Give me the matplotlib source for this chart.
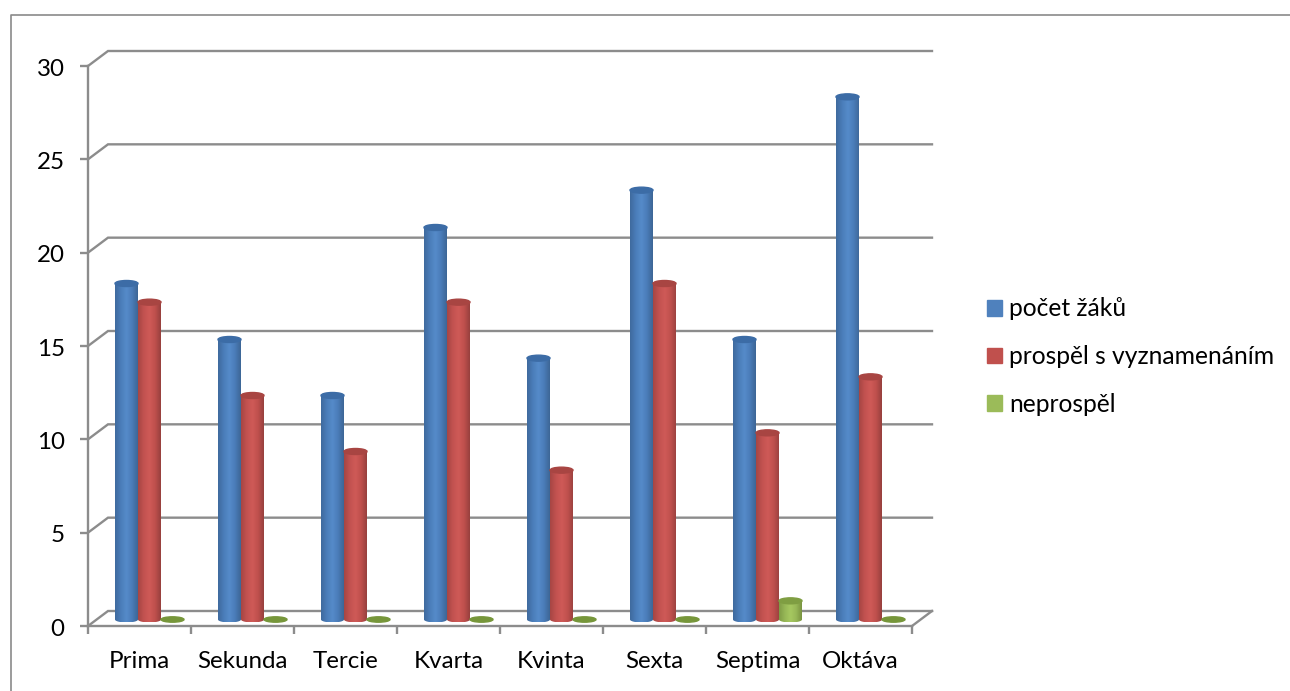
import numpy as np
import matplotlib
matplotlib.use("Agg")
import matplotlib.pyplot as plt
from matplotlib.patches import Ellipse, Patch, PathPatch
from matplotlib.path import Path
from matplotlib.lines import Line2D
from matplotlib.colors import LinearSegmentedColormap
from matplotlib.transforms import ScaledTranslation

categories = ["Prima", "Sekunda", "Tercie", "Kvarta", "Kvinta", "Sexta", "Septima", "Oktáva"]
pocet_zaku = [18, 15, 12, 21, 14, 23, 15, 28]
vyznamenani = [17, 12, 9, 17, 8, 18, 10, 13]
neprospel = [0, 0, 0, 0, 0, 0, 1, 0]
series_names = ["počet žáků", "prospěl s vyznamenáním", "neprospěl"]
y_ticks = [0, 5, 10, 15, 20, 25, 30]

W, H = 1290, 691
GREY = "#8c8c8c"
LW = 1.7
plt.rcParams["font.family"] = ["Lato", "DejaVu Sans"]

fig = plt.figure(figsize=(W / 100, H / 100), dpi=100, facecolor="white")
ax = fig.add_axes([88 / W, (H - 626) / H, 824 / W, 560 / H])
ax.set_xlim(0, len(categories))
ax.set_ylim(0, 30)
px_x = 8 / 824          # data units per pixel, horizontal
px_y = 30 / 560         # data units per pixel, vertical
dx, dy = 20 * px_x, 15 * px_y  # 3-D depth offset

for s in ("top", "right"):
    ax.spines[s].set_visible(False)
for s in ("left", "bottom"):
    ax.spines[s].set_color(GREY)
    ax.spines[s].set_linewidth(LW)
ax.set_xticks(np.arange(len(categories) + 1))
ax.set_xticklabels([""] * (len(categories) + 1))
ax.set_yticks(y_ticks)
ax.set_yticklabels([str(v) for v in y_ticks])
ax.tick_params(axis="y", length=5.8, width=LW, color=GREY, labelsize=17.4, pad=11, labelcolor="black")
ax.tick_params(axis="x", length=5.8, width=LW, color=GREY)
shift = ScaledTranslation(0, -1.2 / 100, fig.dpi_scale_trans)
for label in ax.get_yticklabels():
    label.set_transform(label.get_transform() + shift)
for i, c in enumerate(categories):
    ax.annotate(c, (i + 0.5, 0), xytext=(0, -35), textcoords="offset pixels",
                ha="center", va="center", fontsize=17.4, color="black", annotation_clip=False)

# depth grid: slanted side wall lines + back wall lines
for v in y_ticks:
    ax.plot([0, dx, 8 + dx], [v, v + dy, v + dy], color=GREY, lw=LW, clip_on=False,
            zorder=1, solid_joinstyle="miter")
ax.plot([8, 8 + dx], [0, dy], color=GREY, lw=LW, clip_on=False, zorder=1)

bar_w = 23 * px_x
first = 27 * px_x
rx = bar_w / 2
ry = 3 * px_y
base = 6.5 * px_y
cmaps = [
    ("#3f6a9e", "#4a7db9", "#558bca", "#4a7cb8", "#3d6696", "#3c6ca6", "#4f81bd"),
    ("#a64644", "#c25250", "#cf5a57", "#bf504d", "#97403e", "#a84542", "#c0504d"),
    ("#7f9c46", "#96b656", "#a6c860", "#98b857", "#7a9441", "#7f9e42", "#9bbb59"),
]
theta = np.linspace(0, np.pi, 40)


def cylinder(x0, val, palette, z):
    cx = x0 + rx
    if val <= 0:
        ax.add_patch(Ellipse((cx, base), bar_w, 2 * 2.7 * px_y, color="#76963a", zorder=z))
        return
    top = val + base
    xs = np.concatenate([[cx + rx, cx - rx], cx - rx * np.cos(theta)])
    ys = np.concatenate([[top, top], base - ry * np.sin(theta)])
    path = Path(np.column_stack([xs, ys]))
    clip = PathPatch(path, transform=ax.transData, fc="none", ec="none")
    ax.add_patch(clip)
    cmap = LinearSegmentedColormap.from_list("c", palette[:5])
    im = ax.imshow(np.linspace(0, 1, 64).reshape(1, -1), extent=(x0, x0 + bar_w, base - ry, top),
                   cmap=cmap, aspect="auto", zorder=z, interpolation="bilinear")
    im.set_clip_path(clip)
    ax.add_patch(Ellipse((cx, top), bar_w, 2 * ry, color=palette[5], zorder=z + 0.1))


for s_i, vals in enumerate([pocet_zaku, vyznamenani, neprospel]):
    for c_i, v in enumerate(vals):
        cylinder(c_i + first + s_i * bar_w, v, cmaps[s_i], 3 + s_i)

ax.set_xlim(0, len(categories))
ax.set_ylim(0, 30)

# chart-area border
fig.add_artist(Line2D([10.5 / W, 10.5 / W, 1], [0, 1 - 14.5 / H, 1 - 14.5 / H],
                      color="#8a8a8a", lw=1.2, transform=fig.transFigure))

handles = [Patch(color=c[6]) for c in cmaps]
fig.legend(handles, series_names, loc="upper left", bbox_to_anchor=(987 / W, 1 - 297.5 / H),
           frameon=False, fontsize=17.7, handlelength=0.61, handleheight=0.61,
           handletextpad=0.29, labelspacing=1.0, borderpad=0, borderaxespad=0, labelcolor="black")

fig.savefig("out.png", dpi=100, facecolor="white")
